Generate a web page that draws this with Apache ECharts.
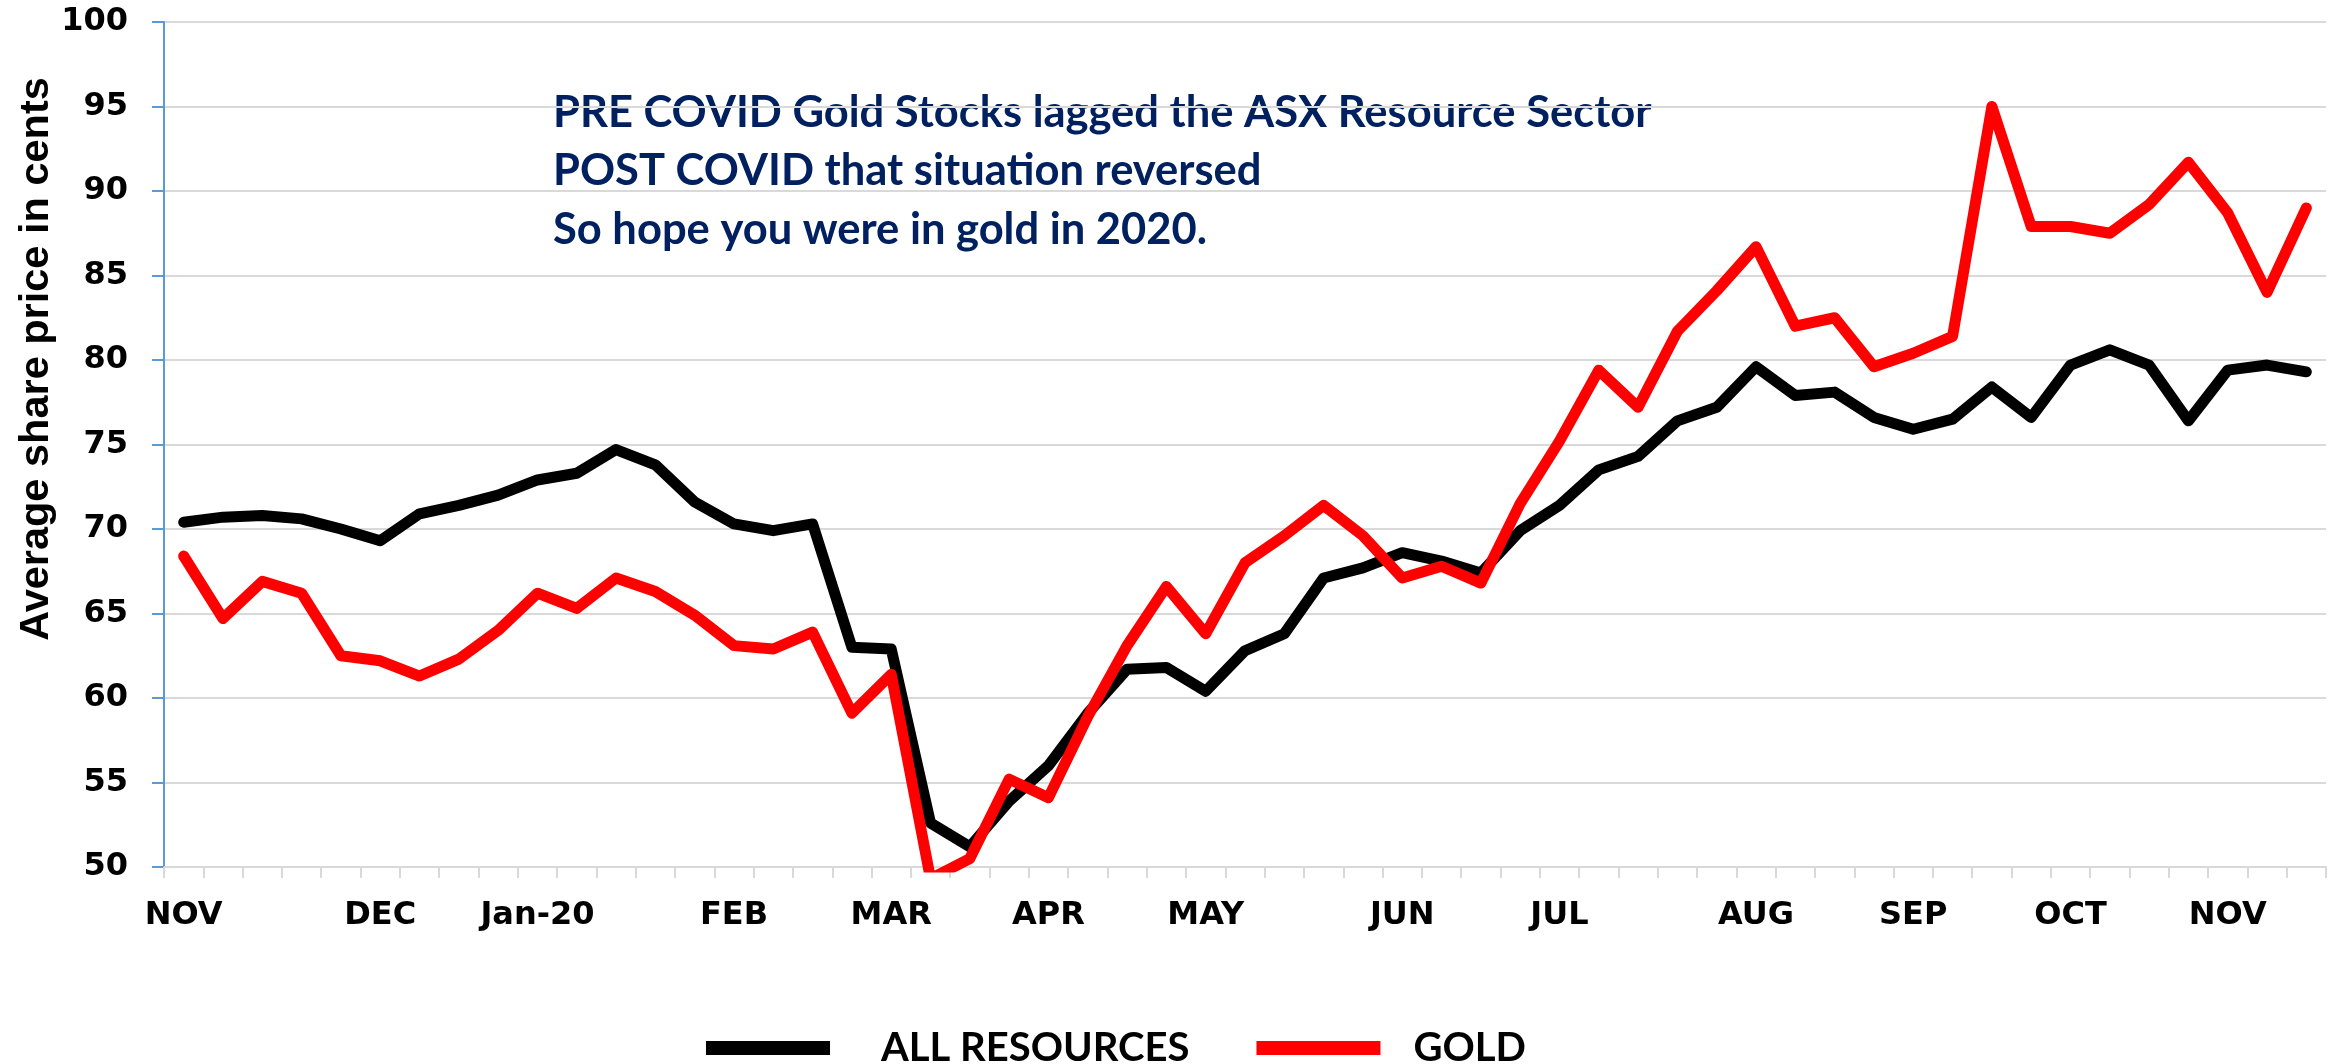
<!DOCTYPE html>
<html>
<head>
<meta charset="utf-8">
<script src="https://cdn.jsdelivr.net/npm/echarts@6/dist/echarts.min.js"></script>
<style>
  html, body { margin: 0; padding: 0; background: #ffffff; }
  #chart { width: 2331px; height: 1064px; }
</style>
</head>
<body>
<div id="chart"></div>
<script>
// Weekly points, Nov 2019 – Nov 2020 (55 weeks)
const categories = ['W1','W2','W3','W4','W5','W6','W7','W8','W9','W10','W11','W12','W13','W14','W15','W16','W17','W18','W19','W20','W21','W22','W23','W24','W25','W26','W27','W28','W29','W30','W31','W32','W33','W34','W35','W36','W37','W38','W39','W40','W41','W42','W43','W44','W45','W46','W47','W48','W49','W50','W51','W52','W53','W54','W55'];

const monthTickIdx    = [0, 5, 9, 14, 18, 22, 26, 31, 35, 40, 44, 48, 52];
const monthTickLabels = ['NOV', 'DEC', 'Jan-20', 'FEB', 'MAR', 'APR', 'MAY', 'JUN', 'JUL', 'AUG', 'SEP', 'OCT', 'NOV'];

const allResources = [70.4, 70.7, 70.8, 70.6, 70.0, 69.3, 70.9, 71.4, 72.0, 72.9, 73.3,
  74.7, 73.8, 71.6, 70.3, 69.9, 70.3, 63.0, 62.9, 52.6, 51.2, 53.9, 56.0,
  59.1, 61.7, 61.8, 60.4, 62.8, 63.8, 67.1, 67.7, 68.6, 68.1, 67.4,
  69.9, 71.4, 73.5, 74.3, 76.4, 77.2, 79.6, 77.9, 78.1, 76.6,
  75.9, 76.5, 78.4, 76.6, 79.7, 80.6, 79.7, 76.4, 79.4, 79.7, 79.3];

const gold = [68.4, 64.7, 66.9, 66.2, 62.5, 62.2, 61.3, 62.3, 64.0, 66.2, 65.3,
  67.1, 66.3, 64.9, 63.1, 62.9, 63.9, 59.1, 61.4, 49.3, 50.5, 55.2, 54.1,
  58.9, 63.1, 66.6, 63.8, 68.0, 69.6, 71.4, 69.6, 67.1, 67.8, 66.8,
  71.5, 75.2, 79.4, 77.2, 81.7, 84.1, 86.7, 82.0, 82.5, 79.6,
  80.4, 81.4, 95.0, 87.9, 87.9, 87.5, 89.2, 91.7, 88.7, 84.0, 89.0];

const yTitle = 'Average share price in cents';
const noteLines = [
  'PRE COVID Gold Stocks lagged the ASX Resource Sector',
  'POST COVID that situation reversed',
  'So hope you were in gold in 2020.'
];

const chart = echarts.init(document.getElementById('chart'), null, { renderer: 'canvas' });

const tickFont = { fontFamily: 'DejaVu Sans', fontWeight: 'bold', fontSize: 32, color: '#000000' };
const noteFont = 'bold 43.5px Lato, sans-serif';

const option = {
  backgroundColor: '#ffffff',
  animation: false,
  grid: { left: 164, right: 5, top: 22, bottom: 197, containLabel: false },
  xAxis: {
    type: 'category',
    data: categories,
    boundaryGap: true,
    axisLine: { show: true, lineStyle: { color: '#d9d9d9', width: 2 } },
    axisTick: { show: true, interval: 0, length: 11, lineStyle: { color: '#d9d9d9', width: 2 } },
    axisLabel: Object.assign({
      interval: 0,
      margin: 33,
      formatter: function (v, i) {
        const k = monthTickIdx.indexOf(i);
        return k >= 0 ? monthTickLabels[k] : '';
      }
    }, tickFont),
    splitLine: { show: false }
  },
  yAxis: {
    type: 'value',
    min: 50, max: 100, interval: 5,
    axisLine: { show: true, lineStyle: { color: '#5B9BD5', width: 2 } },
    axisTick: { show: true, length: 12, lineStyle: { color: '#5B9BD5', width: 2 } },
    axisLabel: Object.assign({ margin: 36 }, tickFont),
    splitLine: { show: true, lineStyle: { color: '#d9d9d9', width: 2 } }
  },
  legend: {
    left: 701, top: 1023,
    itemWidth: 124, itemHeight: 14, itemGap: 67,
    icon: 'rect',
    textStyle: { fontFamily: 'Lato', fontWeight: 'bold', fontSize: 40, color: '#000000' },
    data: [
      { name: 'ALL RESOURCES', textStyle: { padding: [0, 0, 0, 46] } },
      { name: 'GOLD', textStyle: { padding: [0, 0, 0, 28] } }
    ]
  },
  series: [
    {
      name: 'ALL RESOURCES', type: 'line', data: allResources,
      showSymbol: false, symbol: 'none', clip: true,
      itemStyle: { color: '#000000' },
      lineStyle: { color: '#000000', width: 11, join: 'round', cap: 'round' },
      z: 2
    },
    {
      name: 'GOLD', type: 'line', data: gold,
      showSymbol: false, symbol: 'none', clip: true,
      itemStyle: { color: '#ff0000' },
      lineStyle: { color: '#ff0000', width: 11, join: 'round', cap: 'round' },
      z: 3
    }
  ],
  graphic: [
    {
      type: 'text', x: 37, y: 359, rotation: Math.PI / 2,
      style: { text: yTitle, fill: '#000000', font: 'bold 41.5px "Liberation Sans", Arial, sans-serif',
               align: 'center', verticalAlign: 'middle' }
    },
    {
      type: 'text', x: 553, y: 113,
      style: { text: noteLines[0], fill: '#002060', font: noteFont, align: 'left', verticalAlign: 'middle' }
    },
    {
      type: 'text', x: 553, y: 171,
      style: { text: noteLines[1], fill: '#002060', font: noteFont, align: 'left', verticalAlign: 'middle' }
    },
    {
      type: 'text', x: 553, y: 230,
      style: { text: noteLines[2], fill: '#002060', font: noteFont, align: 'left', verticalAlign: 'middle' }
    }
  ]
};

chart.setOption(option);
</script>
</body>
</html>
